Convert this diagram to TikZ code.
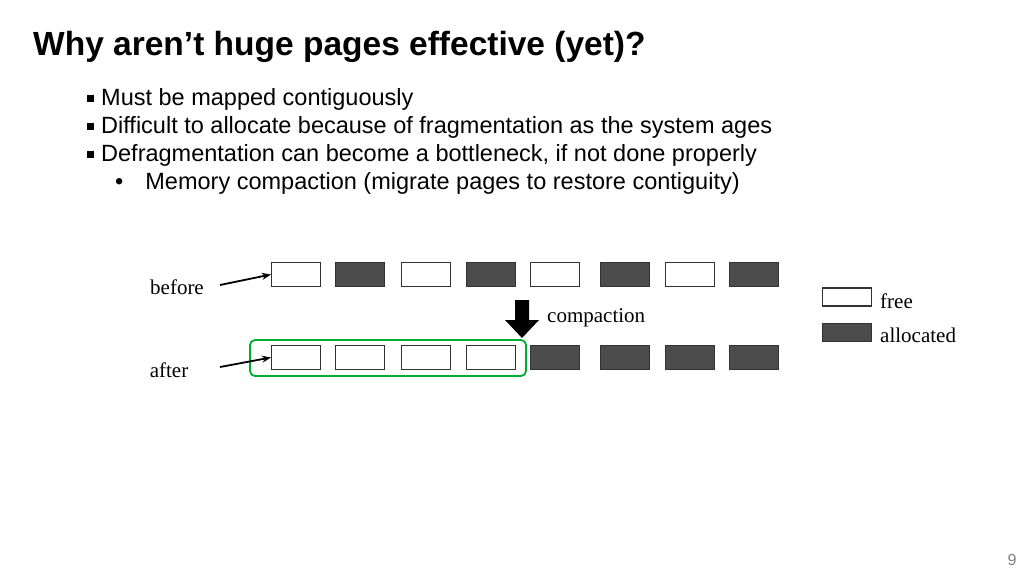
\documentclass[tikz,border=0pt]{standalone}
\usepackage{fontspec}
\setmainfont{Liberation Sans}
\newfontfamily\figfont{Liberation Serif}
\usetikzlibrary{arrows.meta}
\begin{document}
\begin{tikzpicture}[x=1pt,y=-1pt,
  freebox/.style={draw=black!80,line width=1.1pt,fill=white,minimum width=49pt,minimum height=24pt,inner sep=0pt},
  allocbox/.style={freebox,fill=black!70},
  lbl/.style={font=\figfont\fontsize{21}{24}\selectfont,inner sep=0pt},
  bul/.style={anchor=west,font=\fontsize{23.5}{28}\selectfont,inner sep=0pt},
  sq/.style={fill=black,minimum size=7pt,inner sep=0pt}]
\useasboundingbox (0,0) rectangle (1024,576);
\node[anchor=west,font=\bfseries\fontsize{33.5}{40}\selectfont,inner sep=0pt] (title) at (33,47) {Why aren’t huge pages effective (yet)?};
\node[bul] (b1) at (101,99) {Must be mapped contiguously};
\node[bul] (b2) at (101,127) {Difficult to allocate because of fragmentation as the system ages};
\node[bul] (b3) at (101,155) {Defragmentation can become a bottleneck, if not done properly};
\node[bul] (b4) at (115,183) {•\hspace{22pt}Memory compaction (migrate pages to restore contiguity)};
\foreach \y [count=\i] in {98,126,154} \node[sq] (s\i) at (90.5,\y) {};
\foreach \x/\s [count=\i] in {296/freebox,360/allocbox,426/freebox,491/allocbox,555/freebox,625/allocbox,690/freebox,754/allocbox}
  \node[\s] (t\i) at (\x,274.5) {};
\foreach \x/\s [count=\i] in {296/freebox,360/freebox,426/freebox,491/freebox,555/allocbox,625/allocbox,690/allocbox,754/allocbox}
  \node[\s] (a\i) at (\x,357.5) {};
\draw[draw=green!60!black!80!cyan,line width=1.8pt,rounded corners=5pt] (250,340) rectangle (526,376);
\node[lbl] (before) at (177,287) {before};
\node[lbl] (after) at (169,370) {after};
\coordinate (bs) at (220,285);
\coordinate (as) at (220,367);
\draw[-{Stealth[length=9pt,width=7pt]},line width=1.8pt] (bs) -- (t1.west);
\draw[-{Stealth[length=9pt,width=7pt]},line width=1.8pt] (as) -- (a1.west);
\fill (515,300) -- (529,300) -- (529,320) -- (539,320) -- (522,338) -- (505,320) -- (515,320) -- cycle;
\node[lbl,anchor=west] (comp) at (547,318) {compaction};
\node[freebox,minimum height=18pt] (lf) at (847,297) {};
\node[allocbox,minimum height=18pt] (la) at (847,332.5) {};
\node[lbl,anchor=west] (lft) at (880,301) {free};
\node[lbl,anchor=west] (lat) at (880,335) {allocated};
\node[font=\fontsize{16}{18}\selectfont,text=black!50] (pg) at (1012,560) {9};
\end{tikzpicture}
\end{document}
